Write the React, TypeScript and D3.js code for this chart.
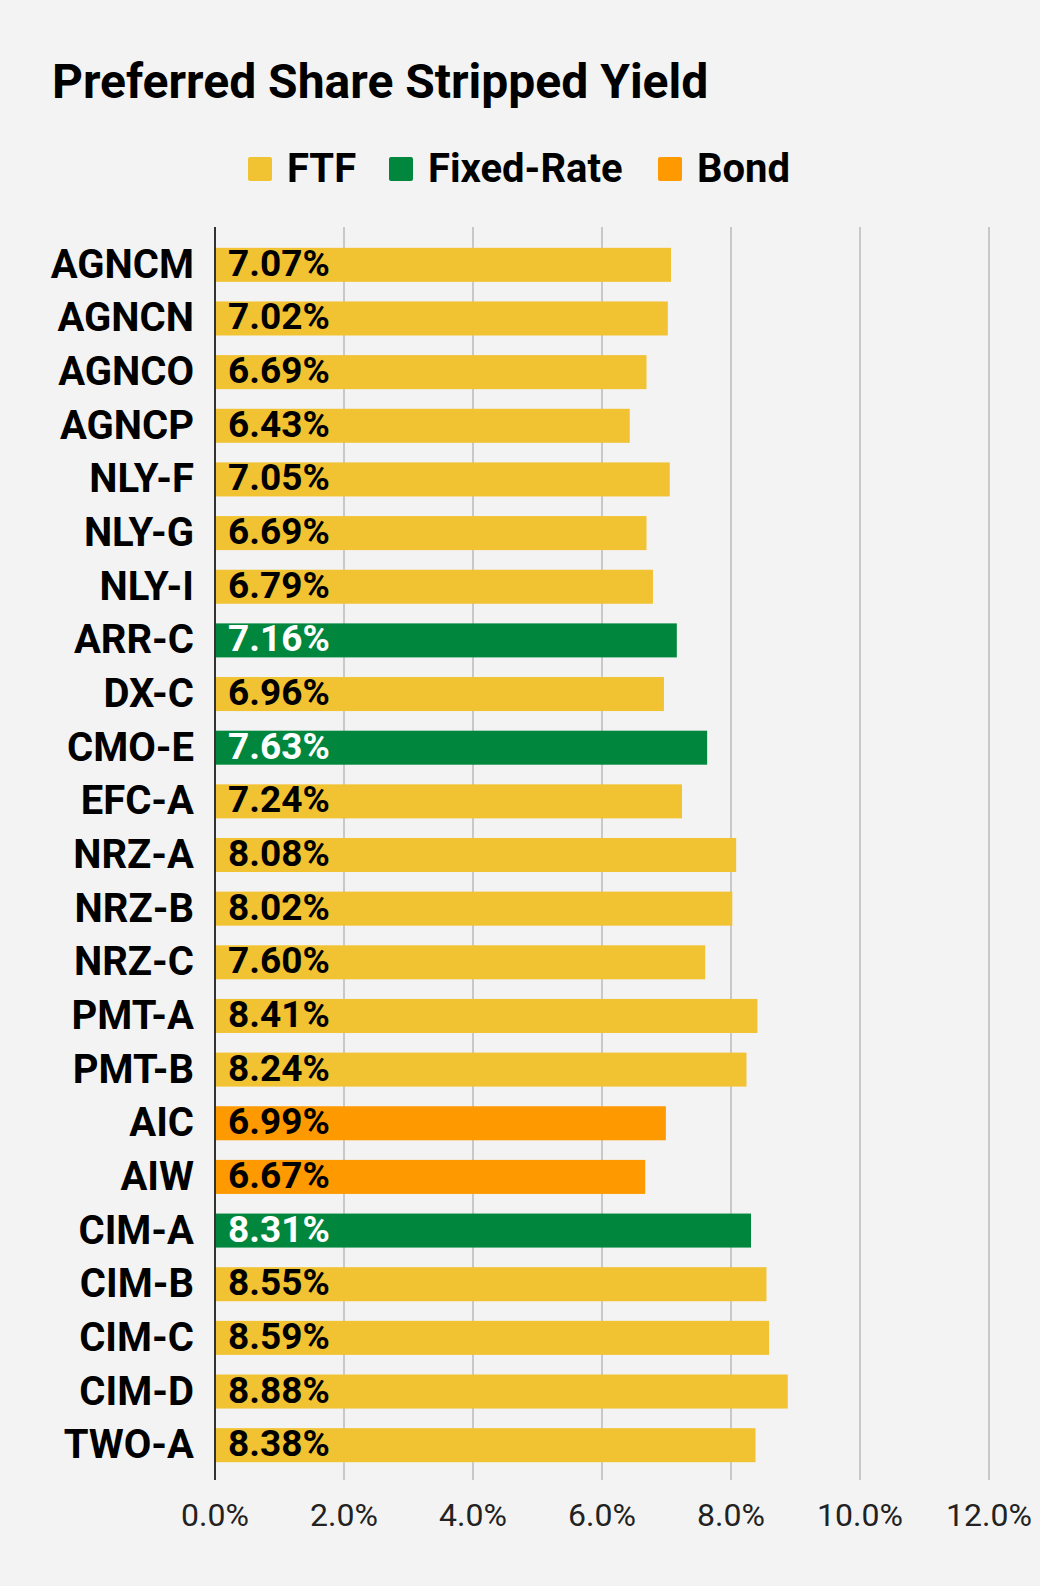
import * as d3 from 'd3';

const tickers = [
  'AGNCM', 'AGNCN', 'AGNCO', 'AGNCP', 'NLY-F', 'NLY-G', 'NLY-I', 'ARR-C',
  'DX-C', 'CMO-E', 'EFC-A', 'NRZ-A', 'NRZ-B', 'NRZ-C', 'PMT-A', 'PMT-B',
  'AIC', 'AIW', 'CIM-A', 'CIM-B', 'CIM-C', 'CIM-D', 'TWO-A',
];
const yields = [
  7.07, 7.02, 6.69, 6.43, 7.05, 6.69, 6.79, 7.16,
  6.96, 7.63, 7.24, 8.08, 8.02, 7.60, 8.41, 8.24,
  6.99, 6.67, 8.31, 8.55, 8.59, 8.88, 8.38,
];
const kinds = [
  'FTF', 'FTF', 'FTF', 'FTF', 'FTF', 'FTF', 'FTF', 'Fixed-Rate',
  'FTF', 'Fixed-Rate', 'FTF', 'FTF', 'FTF', 'FTF', 'FTF', 'FTF',
  'Bond', 'Bond', 'Fixed-Rate', 'FTF', 'FTF', 'FTF', 'FTF',
];
const legendLabels = ['FTF', 'Fixed-Rate', 'Bond'];
const legendColors = ['#f1c232', '#00873d', '#ff9900'];
const xTicks = [0, 2, 4, 6, 8, 10, 12];

const W = 1040;
const H = 1586;
const FONT = 'Roboto, "Noto Sans", sans-serif';

export default function App() {
  const color = d3.scaleOrdinal<string, string>().domain(legendLabels).range(legendColors);
  const x = d3.scaleLinear().domain([0, 12]).range([215, 989]);
  const y = d3.scaleBand<string>()
    .domain(tickers)
    .range([238, 1472])
    .paddingInner(0.366)
    .paddingOuter(0.183);
  const gridTop = 227;
  const gridBottom = 1480;

  // legend item x positions (square left edge)
  const legendX = [248, 389, 658];

  return (
    <svg width={W} height={H} style={{ position: 'absolute', left: 0, top: 0, display: 'block' }}>
      <rect width={W} height={H} fill="#f3f3f3" />

      <text x={52} y={98} fontFamily={FONT} fontWeight={700} fontSize={48} fill="#000">
        Preferred Share Stripped Yield
      </text>

      {legendLabels.map((l, i) => (
        <g key={l}>
          <rect x={legendX[i]} y={157} width={24} height={24} rx={2} fill={color(l)} />
          <text x={legendX[i] + 39} y={182} fontFamily={FONT} fontWeight={700} fontSize={40} fill="#000">
            {l}
          </text>
        </g>
      ))}

      {xTicks.filter((t) => t > 0).map((t) => (
        <line key={t} x1={x(t)} x2={x(t)} y1={gridTop} y2={gridBottom} stroke="#c8c8c8" strokeWidth={2} />
      ))}

      {tickers.map((t, i) => {
        const by = y(t)!;
        const cy = by + y.bandwidth() / 2;
        const fixed = kinds[i] === 'Fixed-Rate';
        return (
          <g key={t}>
            <rect x={x(0)} y={by} width={x(yields[i]) - x(0)} height={y.bandwidth()} fill={color(kinds[i])} />
            <text x={194} y={cy + 13} textAnchor="end" fontFamily={FONT} fontWeight={700} fontSize={40} fill="#000">
              {t}
            </text>
            <text x={228} y={cy + 11} fontFamily={FONT} fontWeight={700} fontSize={37} fill={fixed ? '#fff' : '#000'}>
              {yields[i].toFixed(2)}%
            </text>
          </g>
        );
      })}

      <line x1={x(0)} x2={x(0)} y1={gridTop} y2={gridBottom} stroke="#333" strokeWidth={2} />

      {xTicks.map((t) => (
        <text key={t} x={x(t)} y={1526} textAnchor="middle" fontFamily={FONT} fontSize={32} fill="#222">
          {t.toFixed(1)}%
        </text>
      ))}
    </svg>
  );
}
